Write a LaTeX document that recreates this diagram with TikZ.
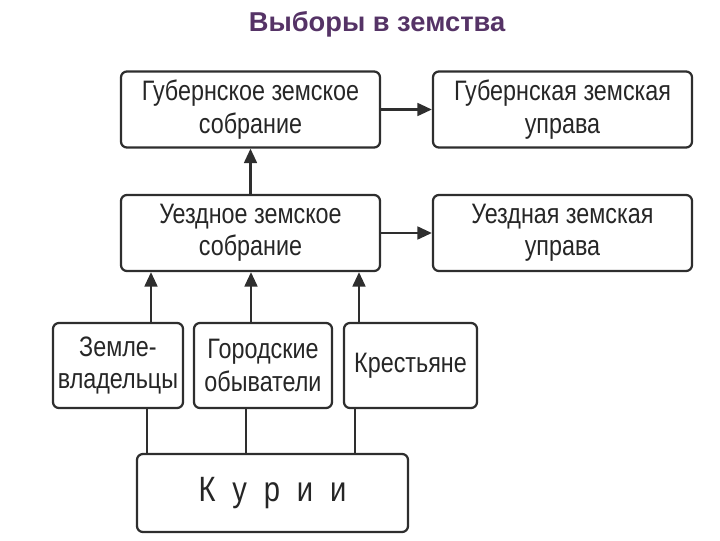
\documentclass[tikz,border=0pt]{standalone}
\usepackage{fontspec}
\setmainfont{Liberation Sans}
\newfontfamily\boxfont[FakeStretch=0.83]{Liberation Sans}
\newcommand\kurspacing{\spaceskip 0.42cm\relax}
\usetikzlibrary{arrows.meta}
\definecolor{linegray}{HTML}{2E2E2E}
\definecolor{titlepurple}{HTML}{553366}
\tikzstyle{block} = [rectangle, draw=linegray, line width=1.6pt, rounded corners=0.15cm,
    align=center, inner sep=0pt, text=black!85, font=\boxfont\fontsize{20}{23}\selectfont]
\tikzstyle{wideblock} = [block, minimum width=6.475cm, minimum height=1.9cm]
\tikzstyle{smallblock} = [block, minimum height=2.125cm]
\tikzstyle{line} = [draw=linegray, line width=1.6pt, -{Triangle[length=0.36cm,width=0.32cm]}]
\tikzstyle{plain} = [draw=linegray, line width=1.6pt]

\begin{document}
\begin{tikzpicture}[x=0.025cm, y=0.025cm]
    \useasboundingbox (0,0) rectangle (720,-540);
    % Title
    \node [anchor=base, text=titlepurple, font=\bfseries\fontsize{19.4}{22}\selectfont] (Title) at (377,-31) {Выборы в земства};
    % Place nodes
    \node [wideblock] (GubSobr) at (250.5,-109.5) {Губернское земское\\собрание};
    \node [wideblock] (GubUprava) at (562.5,-109.5) {Губернская земская\\управа};
    \node [wideblock] (UezdSobr) at (250.5,-233) {Уездное земское\\собрание};
    \node [wideblock] (UezdUprava) at (562.5,-233) {Уездная земская\\управа};
    \node [smallblock, minimum width=3.25cm] (Zemlevl) at (118,-365.5) {Земле-\\владельцы};
    \node [smallblock, minimum width=3.45cm] (Gorod) at (263,-365.5) {Городские\\обыватели};
    \node [smallblock, minimum width=3.325cm] (Krest) at (410.5,-365.5) {Крестьяне};
    \node [block, minimum width=6.775cm, minimum height=1.95cm,
        font=\boxfont\fontsize{25}{28}\selectfont\kurspacing] (Kurii) at (272.5,-493) {К у р и и};
    % Columns of the connectors
    \coordinate (up1) at (151,0);
    \coordinate (up2) at (251,0);
    \coordinate (up3) at (359,0);
    \coordinate (down1) at (147,0);
    \coordinate (down2) at (246,0);
    \coordinate (down3) at (355,0);
    % Draw edges
    \path [line] (GubSobr) -- (GubUprava);
    \path [line] (UezdSobr) -- (UezdUprava);
    \path [line] (UezdSobr.north) -- (GubSobr.south);
    \path [line] (Zemlevl.north -| up1) -- (UezdSobr.south -| up1);
    \path [line] (Gorod.north -| up2) -- (UezdSobr.south -| up2);
    \path [line] (Krest.north -| up3) -- (UezdSobr.south -| up3);
    \path [plain] (Zemlevl.south -| down1) -- (Kurii.north -| down1);
    \path [plain] (Gorod.south -| down2) -- (Kurii.north -| down2);
    \path [plain] (Krest.south -| down3) -- (Kurii.north -| down3);
\end{tikzpicture}
\end{document}
